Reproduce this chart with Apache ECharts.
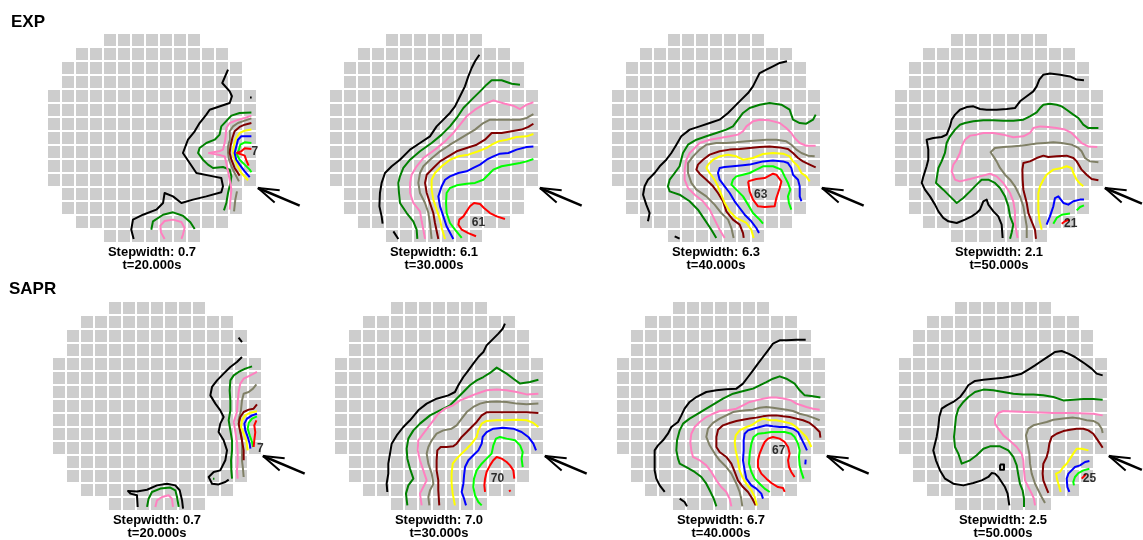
<!DOCTYPE html>
<html>
<head>
<meta charset="utf-8">
<script src="https://cdn.jsdelivr.net/npm/echarts@6/dist/echarts.min.js"></script>
<style>
  html, body { margin: 0; padding: 0; background: #ffffff; }
  #chart { width: 1143px; height: 540px; }
</style>
</head>
<body>
<div id="chart"></div>
<script>
// Detector layout: number of cells in each of the 15 rows of the round array
const cellRows = [7, 11, 13, 13, 15, 15, 15, 15, 15, 15, 15, 13, 13, 11, 7];

const times = [20, 30, 40, 50];
const expStepwidth = [0.7, 6.1, 6.3, 2.1];
const saprStepwidth = [0.7, 7.0, 6.7, 2.5];

// Peak values written next to the innermost contour: [col, row, value]
const expPeaks = [[14.84, 8.5, 7], [10.67, 13.57, 61], [10.69, 11.55, 63], [12.62, 13.62, 21]];
const saprPeaks = [[14.88, 10.54, 7], [11.67, 12.69, 70], [11.62, 10.67, 67], [13.67, 12.69, 25]];

// Contour level colours
const levelColors = {
  k: '#000000', g: '#008000', p: '#ff80c0', o: '#808066', m: '#800000',
  y: '#ffff00', b: '#0000ff', l: '#00ff00', r: '#ff0000'
};

// Contour lines in cell units (x: column, y: row from top), one list per panel
const exp20 = [
  ['k', [[12.93,2.62],[12.52,3.57],[13.05,4.17],[13.21,4.52],[13.05,5.0],[11.62,5.48],[11.38,5.83],[10.9,6.43],[10.55,7.02],[10.07,7.62],[9.71,8.57],[10.19,9.29],[10.67,10.0],[11.86,10.24],[12.45,10.36],[12.57,10.95],[12.45,11.38],[11.38,11.67],[10.43,11.9],[9.6,12.14],[9.0,11.67],[8.4,11.43],[8.29,12.14],[7.81,12.62],[6.86,12.98],[6.14,13.33],[6.02,14.05],[6.19,14.71]]],
  ['k', [[14.5,4.6],[14.62,4.6]]],
  ['g', [[14.6,5.67],[13.76,5.71],[13.17,5.9],[12.9,6.19],[12.45,6.67],[12.33,7.26],[11.98,7.62],[11.38,7.86],[10.9,8.21],[10.79,8.57],[11.14,9.05],[11.5,9.4],[11.86,9.64],[12.57,9.57],[13.05,9.76],[13.17,10.24],[13.1,10.71],[12.93,11.43],[12.81,12.14],[12.64,12.67]]],
  ['g', [[7.45,14.05],[7.57,13.45],[8.29,12.98],[9.0,12.81],[9.71,13.05],[10.24,13.52],[10.55,14.0]]],
  ['p', [[14.6,5.9],[14.12,6.07],[13.52,6.24],[13.05,6.43],[12.81,6.79],[12.76,7.38],[12.69,7.86],[12.57,8.33],[12.29,8.45],[11.57,8.57],[12.33,8.71],[12.69,8.81],[12.81,9.29],[12.93,9.88],[13.05,10.48],[13.17,11.19],[13.1,11.9],[13.05,12.62]]],
  ['p', [[8.4,14.71],[8.14,14.24],[8.1,13.76],[8.4,13.43],[9.0,13.33],[9.6,13.5],[9.83,13.93],[9.71,14.4],[9.6,14.71]]],
  ['o', [[14.6,6.1],[14.12,6.26],[13.64,6.43],[13.29,6.67],[13.05,7.02],[13.05,7.62],[12.93,8.1],[12.93,8.57],[13.0,9.05],[13.17,9.52],[13.4,10.0],[13.71,10.6]]],
  ['o', [[13.57,11.31],[13.45,11.9],[13.36,12.74]]],
  ['m', [[14.6,6.43],[14.12,6.55],[13.76,6.71],[13.4,7.02],[13.24,7.5],[13.1,8.1],[13.05,8.57],[13.17,9.05],[13.4,9.64],[13.76,10.19]]],
  ['y', [[14.6,6.9],[14.12,6.98],[13.76,7.14],[13.52,7.5],[13.36,7.98],[13.29,8.45],[13.36,8.93],[13.57,9.4],[13.88,10.0],[14.36,10.52]]],
  ['b', [[14.6,7.38],[13.88,7.38],[13.64,7.62],[13.52,8.1],[13.4,8.57],[13.52,9.05],[13.76,9.4],[14.12,9.88],[14.48,10.29]]],
  ['l', [[14.6,7.86],[14.12,7.81],[13.81,7.98],[13.71,8.33],[13.57,8.69],[13.76,9.05],[14.12,9.4],[14.48,9.76],[14.6,9.95]]],
  ['r', [[14.6,8.29],[14.12,8.24],[13.88,8.45],[13.57,8.57],[13.88,8.67],[14.12,8.76],[14.24,9.1],[14.4,9.48]]]
];

const exp30 = [
  ['k', [[10.74,1.55],[10.43,2.02],[10.19,2.5],[9.95,3.1],[9.71,3.81],[9.36,4.52],[9.0,5.24],[8.64,5.71],[8.17,6.19],[7.69,6.67],[7.21,7.38],[6.5,7.86],[5.79,8.33],[5.07,9.05],[4.48,9.52],[4.0,10.0],[3.76,10.71],[3.64,11.43],[3.6,12.38],[3.76,13.1],[3.83,13.62]]],
  ['k', [[4.6,14.17],[4.95,14.71]]],
  ['g', [[13.64,3.69],[13.05,3.62],[12.33,3.38],[11.62,3.38],[11.26,3.69],[10.79,4.17],[10.19,4.76],[9.6,5.36],[9.12,6.07],[8.64,6.67],[8.05,7.26],[7.33,7.86],[6.5,8.45],[5.79,9.05],[5.31,9.64],[5.07,10.24],[4.95,10.71],[5.0,11.43],[5.07,12.14],[5.55,12.86],[6.02,13.45],[6.26,14.05],[6.31,14.71]]],
  ['p', [[14.6,4.95],[14.12,5.12],[13.64,5.43],[13.17,5.19],[12.57,5.05],[11.74,4.81],[11.02,5.12],[10.43,5.48],[9.83,5.95],[9.36,6.55],[8.88,7.14],[8.29,7.74],[7.57,8.33],[6.74,8.93],[6.26,9.52],[5.9,10.12],[5.79,10.71],[5.79,11.43],[6.02,12.14],[6.5,12.74],[6.62,13.45],[6.74,14.05],[6.86,14.71]]],
  ['o', [[14.6,5.79],[14.12,6.07],[13.64,6.19],[12.93,6.19],[11.5,6.19],[11.02,6.43],[10.43,6.9],[9.83,7.26],[9.24,7.62],[8.64,7.98],[7.93,8.45],[7.21,9.05],[6.74,9.52],[6.5,10.0],[6.38,10.71],[6.5,11.43],[6.86,12.14],[7.1,12.86],[7.21,13.57],[7.33,14.71]]],
  ['m', [[14.6,6.48],[14.24,6.71],[13.76,6.9],[13.05,7.02],[12.33,7.14],[11.62,7.14],[11.14,7.62],[10.55,7.98],[9.83,8.21],[9.12,8.45],[8.52,8.81],[7.93,9.17],[7.45,9.64],[6.98,10.12],[6.86,10.71],[6.98,11.43],[7.21,12.14],[7.45,12.86],[7.57,13.57],[7.81,14.71]]],
  ['y', [[14.6,7.21],[14.12,7.38],[13.4,7.43],[12.69,7.62],[12.1,7.74],[11.62,7.98],[11.26,8.21],[10.67,8.45],[9.95,8.69],[9.24,8.81],[8.64,9.05],[8.05,9.52],[7.57,10.0],[7.33,10.48],[7.33,11.19],[7.45,11.9],[7.69,12.62],[7.93,13.33],[8.05,13.93],[8.29,14.71]]],
  ['b', [[14.6,8.1],[14.12,8.14],[13.4,8.33],[12.81,8.57],[12.21,8.62],[11.74,8.81],[11.26,9.05],[10.79,9.4],[10.31,9.64],[9.83,9.88],[9.24,10.0],[8.64,10.24],[8.29,10.48],[8.05,10.95],[7.81,11.67],[7.93,12.38],[8.17,13.1],[8.4,13.81],[8.88,14.71]]],
  ['l', [[14.6,9.0],[14.12,9.17],[13.64,9.29],[13.05,9.4],[12.33,9.52],[11.74,9.76],[11.38,10.12],[11.02,10.48],[10.43,10.71],[9.83,10.76],[9.12,10.88],[8.64,11.07],[8.4,11.43],[8.36,12.14],[8.4,12.86],[8.64,13.57],[9.0,14.05],[9.48,14.64]]],
  ['r', [[12.57,13.29],[11.98,13.1],[11.5,12.86],[11.07,12.5],[10.79,12.21],[10.36,12.14],[10.07,12.38],[9.83,12.74],[9.6,13.1],[9.31,13.33],[9.24,13.69],[9.48,14.05],[9.95,14.29],[10.5,14.52]]]
];

const exp40 = [
  ['k', [[12.57,2.02],[12.05,2.14],[11.57,2.38],[11.1,2.62],[10.62,2.86],[10.38,3.33],[10.14,3.81],[9.79,4.29],[9.31,4.76],[8.83,5.24],[8.36,5.71],[7.76,6.19],[7.05,6.43],[6.33,6.67],[5.62,6.9],[5.02,7.38],[4.67,7.98],[4.31,8.57],[3.95,9.05],[3.48,9.52],[3.12,10.0],[2.64,10.48],[2.4,10.95],[2.29,11.55],[2.52,12.26],[2.76,12.86],[2.64,13.45]]],
  ['k', [[4.55,14.52],[4.9,14.69]]],
  ['g', [[14.62,5.83],[14.43,6.19],[13.95,6.48],[13.48,6.43],[13.0,6.19],[12.76,5.48],[12.17,5.12],[11.33,5.0],[10.62,5.12],[9.9,5.36],[9.43,5.71],[9.07,6.19],[8.71,6.67],[8.24,6.9],[7.52,7.14],[6.81,7.38],[6.1,7.62],[5.5,7.98],[5.14,8.57],[4.9,9.52],[4.55,10.0],[4.19,10.48],[4.07,10.95],[4.19,11.31],[4.9,11.55],[5.62,12.02],[6.21,12.62],[6.69,13.33],[7.17,14.05],[7.52,14.64]]],
  ['p', [[14.62,8.05],[13.95,8.05],[13.48,7.86],[13.12,7.5],[12.88,7.14],[12.52,6.79],[12.05,6.43],[11.33,6.24],[10.62,6.19],[10.14,6.31],[9.67,6.67],[9.43,7.02],[9.07,7.26],[8.48,7.38],[7.76,7.5],[7.05,7.62],[6.33,7.86],[5.98,8.21],[5.62,8.57],[5.38,9.05],[5.26,9.76],[5.26,10.48],[5.5,11.07],[5.98,11.55],[6.57,12.02],[7.05,12.62],[7.4,13.33],[7.76,14.05],[8.12,14.64]]],
  ['o', [[14.55,8.81],[14.07,8.76],[13.6,8.57],[13.24,8.33],[12.88,7.98],[12.52,7.74],[11.81,7.62],[11.1,7.62],[10.38,7.67],[9.67,7.74],[8.95,7.81],[8.24,7.86],[7.52,7.86],[6.81,7.98],[6.33,8.33],[5.86,8.81],[5.5,9.29],[5.5,10.0],[5.74,10.71],[6.1,11.19],[6.81,11.67],[7.4,12.26],[7.88,12.86],[8.36,13.33],[8.6,13.93],[8.76,14.64]]],
  ['m', [[14.62,9.6],[14.19,9.4],[13.71,9.17],[13.36,8.93],[13.0,8.57],[12.64,8.29],[12.05,8.17],[11.33,8.1],[10.62,8.14],[9.9,8.21],[9.19,8.29],[8.48,8.33],[7.76,8.45],[7.05,8.69],[6.57,9.05],[6.21,9.4],[6.1,9.76],[6.33,10.05],[6.81,10.48],[7.29,10.95],[7.64,11.43],[8.0,12.02],[8.24,12.74],[8.71,13.33],[9.19,13.69],[9.43,14.29],[9.48,14.64]]],
  ['y', [[14.19,10.6],[13.95,10.24],[13.6,10.0],[13.36,9.52],[13.0,9.17],[12.76,8.81],[12.29,8.62],[11.57,8.57],[10.86,8.64],[10.14,8.93],[9.43,9.05],[8.95,8.81],[8.36,8.69],[7.76,8.81],[7.29,9.05],[6.93,9.4],[6.81,9.64],[7.05,10.0],[7.4,10.48],[7.64,10.95],[7.88,11.55],[8.12,12.14],[8.48,12.74],[8.95,13.21],[9.67,13.57],[10.02,14.05],[10.19,14.64]]],
  ['b', [[13.6,12.02],[13.48,11.67],[13.48,10.95],[13.36,10.48],[13.0,10.12],[12.88,9.64],[12.64,9.29],[12.29,9.17],[11.57,9.1],[10.86,9.17],[10.38,9.29],[9.9,9.4],[9.43,9.45],[8.71,9.52],[8.12,9.57],[7.76,9.64],[7.64,10.0],[7.76,10.48],[8.12,10.95],[8.48,11.43],[8.83,12.02],[9.19,12.5],[9.55,12.98],[10.02,13.45],[10.38,13.93],[10.57,14.29]]],
  ['l', [[12.88,12.62],[12.71,12.14],[12.64,11.67],[12.81,11.19],[12.64,10.71],[12.4,10.24],[12.17,9.76],[11.57,9.52],[10.86,9.52],[10.38,9.76],[9.9,10.0],[9.43,10.12],[8.95,10.24],[8.71,10.48],[8.6,10.83],[8.95,11.19],[9.43,11.67],[9.79,12.26],[10.14,12.86],[10.62,13.33],[10.86,13.62]]],
  ['r', [[9.79,10.6],[10.38,10.43],[10.98,10.36],[11.57,10.05],[11.81,10.12],[12.17,10.6],[12.05,11.07],[11.81,11.79],[11.69,12.38],[10.98,12.43],[10.5,12.38],[10.14,11.9],[9.9,11.31],[9.79,10.6]]]
];

const exp50 = [
  ['k', [[13.57,3.38],[13.05,3.33],[12.57,3.1],[11.86,2.98],[11.14,2.9],[10.67,2.98],[10.38,3.33],[10.19,3.81],[9.95,4.17],[9.48,4.52],[9.0,4.88],[8.64,5.36],[8.05,5.43],[7.33,5.48],[6.62,5.48],[6.14,5.43],[5.67,5.24],[5.19,5.29],[4.71,5.48],[4.36,5.83],[4.12,6.19],[4.0,6.67],[3.76,7.26],[3.4,7.43],[2.81,7.5],[2.33,7.62],[2.45,8.33],[2.45,9.05],[2.33,9.52],[2.1,10.24],[1.98,10.71],[2.21,11.19],[2.57,11.67],[2.93,12.26],[3.17,12.74],[3.52,13.21],[3.88,13.45],[4.48,13.57],[5.07,13.33],[5.55,13.1],[5.9,12.86],[6.14,12.62],[6.38,12.02],[6.62,11.9],[6.74,12.26],[7.1,12.74],[7.45,13.1],[7.69,13.69],[7.76,14.64]]],
  ['g', [[14.6,6.79],[13.88,6.79],[13.52,6.55],[13.17,6.07],[12.81,5.83],[12.33,5.48],[11.98,5.24],[11.62,5.12],[11.14,5.05],[10.67,5.12],[10.43,5.36],[10.19,5.67],[9.71,5.95],[9.24,6.19],[8.52,6.26],[7.81,6.26],[7.1,6.24],[6.38,6.24],[5.67,6.31],[5.07,6.43],[4.71,6.55],[4.36,6.9],[4.0,7.38],[3.76,7.86],[3.64,8.57],[3.4,9.17],[3.17,9.64],[3.0,10.71],[3.52,11.19],[4.0,11.67],[4.48,12.14],[4.95,11.79],[5.43,11.31],[5.9,10.83],[6.26,10.48],[6.74,10.48],[7.21,10.71],[7.57,11.07],[7.93,11.67],[8.17,12.38],[8.29,13.1],[8.52,13.69],[8.4,14.29],[8.29,14.69]]],
  ['p', [[14.52,8.14],[13.88,8.1],[13.4,7.86],[13.05,7.5],[12.69,7.14],[12.21,6.9],[11.62,6.79],[11.02,6.71],[10.43,6.67],[9.95,6.79],[9.71,7.14],[9.24,7.38],[8.52,7.45],[7.81,7.26],[7.1,7.14],[6.38,7.14],[5.9,7.26],[5.43,7.33],[5.07,7.62],[4.83,8.1],[4.71,8.57],[4.48,9.05],[4.24,9.4],[4.12,9.88],[4.36,10.48],[4.71,10.6],[5.43,10.43],[6.14,10.24],[6.86,10.05],[7.33,10.24],[7.81,10.71],[8.29,11.43],[8.52,12.02],[8.64,12.74],[8.64,13.57],[8.76,14.29],[8.83,14.64]]],
  ['o', [[14.6,9.24],[14.0,9.17],[13.64,8.93],[13.4,8.45],[13.17,8.21],[12.69,7.98],[11.98,7.86],[11.38,7.81],[10.79,7.86],[10.19,7.9],[9.6,7.98],[9.0,8.05],[8.4,8.1],[7.81,8.14],[7.21,8.21],[6.9,8.52],[7.1,8.81],[7.33,9.17],[7.57,9.64],[7.93,10.12],[8.29,10.48],[8.64,10.95],[9.0,11.67],[9.24,12.38],[9.36,13.1],[9.48,13.81],[9.48,14.64]]],
  ['m', [[14.6,10.52],[14.12,10.43],[13.76,10.12],[13.4,9.76],[13.05,9.17],[12.81,8.93],[12.33,8.76],[11.62,8.81],[11.02,8.86],[10.67,8.76],[10.19,8.93],[9.71,9.17],[9.24,9.29],[9.17,9.76],[9.19,10.48],[9.24,11.19],[9.48,12.14],[9.6,12.86],[9.83,13.45],[10.07,14.05],[10.14,14.71]]],
  ['y', [[13.52,10.95],[13.24,10.71],[13.05,10.48],[12.81,10.0],[12.69,9.64],[12.33,9.52],[11.98,9.64],[11.38,9.76],[10.9,10.12],[10.67,10.48],[10.43,10.95],[10.31,11.43],[10.31,12.02],[10.31,12.62],[10.38,13.33],[10.55,14.05]]],
  ['b', [[10.9,13.69],[11.14,13.1],[11.38,12.38],[11.5,11.79],[11.74,11.67],[12.1,12.14],[12.45,12.26],[12.81,12.02],[13.29,11.9],[13.57,11.9]]],
  ['l', [[11.38,13.62],[11.62,13.21],[11.98,12.98],[12.57,12.9]]],
  ['l', [[13.05,12.67],[13.29,12.43],[13.57,12.31]]],
  ['r', [[11.98,13.62],[12.21,13.45],[12.52,13.33]]]
];

const sapr20 = [
  ['k', [[13.33,2.62],[13.57,2.93]]],
  ['k', [[13.57,4.0],[13.21,4.36],[12.74,4.71],[12.26,5.19],[11.79,5.67],[11.43,6.14],[11.31,6.74],[11.67,7.33],[12.02,7.81],[12.26,8.29],[12.02,8.76],[11.9,9.36],[12.26,9.95],[12.5,10.67],[12.38,11.38],[12.02,12.1],[11.55,12.21],[11.19,12.57],[11.43,13.05],[11.9,13.1],[12.38,12.93],[12.62,12.76]]],
  ['k', [[6.12,14.71],[6.07,13.88],[5.6,13.76],[5.43,13.57],[6.07,13.6],[6.79,13.48],[7.5,13.17],[8.21,13.05],[8.81,13.17],[9.12,13.52],[9.29,14.24],[9.36,14.83]]],
  ['g', [[14.29,4.67],[13.81,4.83],[13.33,5.07],[12.98,5.31],[12.74,5.67],[12.69,6.38],[12.74,7.1],[12.74,7.81],[12.62,8.52],[12.74,9.24],[12.86,9.95],[12.86,10.67],[12.79,11.38],[12.81,12.1],[12.86,12.69]]],
  ['g', [[11.5,12.69],[11.6,12.69]]],
  ['g', [[6.79,14.71],[6.9,14.12],[7.14,13.64],[7.74,13.4],[8.45,13.33],[8.81,13.52],[8.93,14.0],[9.05,14.71]]],
  ['p', [[14.64,5.07],[14.17,5.31],[13.69,5.55],[13.45,5.9],[13.33,6.5],[13.26,7.21],[13.21,7.93],[12.98,8.64],[13.1,9.36],[13.21,10.07],[13.26,10.79],[13.26,11.5],[13.21,12.1],[13.26,12.69]]],
  ['p', [[7.38,14.71],[7.5,14.24],[7.86,14.0],[8.33,13.88],[8.57,14.12],[8.64,14.71]]],
  ['o', [[14.6,5.95],[14.36,6.26],[14.05,6.5],[13.69,6.62],[13.57,7.1],[13.5,7.81],[13.33,8.52],[13.45,9.24],[13.57,9.95],[13.57,10.67],[13.57,11.38],[13.64,11.98],[13.69,12.57]]],
  ['m', [[14.64,7.38],[14.4,7.69],[14.05,7.76],[13.69,7.93],[13.45,8.29],[13.33,8.76],[13.45,9.36],[13.57,9.95],[13.69,10.67],[13.69,11.38]]],
  ['y', [[14.64,7.88],[14.17,7.98],[13.81,8.17],[13.57,8.52],[13.5,9.0],[13.69,9.48],[13.88,9.95],[13.98,10.67]]],
  ['b', [[14.64,8.05],[14.29,8.17],[13.93,8.4],[13.74,8.76],[13.81,9.24],[13.98,9.71],[14.12,10.19],[14.17,10.55]]],
  ['l', [[14.64,8.24],[14.29,8.4],[14.05,8.71],[13.98,9.12],[14.12,9.6],[14.29,10.07],[14.36,10.43]]],
  ['r', [[14.6,8.52],[14.45,8.88],[14.52,9.36],[14.45,9.95],[14.4,10.43]]]
];

const sapr30 = [
  ['k', [[12.21,1.62],[12.05,1.98],[11.74,2.33],[11.26,2.81],[10.9,3.17],[10.67,3.64],[10.31,4.0],[9.95,4.48],[9.6,4.95],[9.24,5.43],[8.88,6.02],[8.64,6.5],[8.17,6.74],[7.33,6.98],[6.62,7.33],[6.02,7.81],[5.43,8.52],[4.95,9.0],[4.48,9.6],[4.12,10.19],[4.0,10.9],[3.88,11.62],[3.88,12.33],[3.76,13.05],[3.81,13.64]]],
  ['g', [[14.6,5.62],[14.0,5.79],[13.29,5.9],[12.81,5.55],[12.33,5.19],[11.62,4.76],[11.14,5.14],[10.67,5.43],[10.19,5.67],[9.71,6.02],[9.24,6.5],[8.76,6.98],[8.29,7.45],[7.57,7.81],[6.86,8.17],[6.14,8.76],[5.67,9.24],[5.31,9.83],[5.19,10.55],[5.24,11.26],[5.43,11.98],[5.67,12.69],[5.31,13.17],[5.14,13.76],[5.24,14.6]]],
  ['p', [[14.6,6.62],[13.76,6.67],[13.05,6.5],[12.33,6.38],[11.62,6.33],[10.9,6.38],[10.19,6.62],[9.6,6.86],[9.0,7.1],[8.52,7.45],[7.93,7.69],[7.45,8.05],[7.1,8.52],[6.74,9.0],[6.38,9.48],[6.02,9.95],[5.98,10.67],[6.14,11.38],[6.38,12.1],[6.62,12.81],[6.38,13.29],[6.14,13.76],[6.26,14.6]]],
  ['o', [[14.6,7.33],[13.76,7.38],[13.05,7.33],[12.33,7.21],[11.62,7.17],[10.9,7.21],[10.43,7.33],[9.95,7.57],[9.48,7.93],[9.12,8.4],[8.76,8.88],[8.4,9.12],[7.81,9.24],[7.33,9.48],[6.98,9.95],[6.74,10.43],[6.62,10.9],[6.74,11.62],[6.98,12.33],[7.1,13.05],[6.86,13.52],[6.74,14.0],[6.81,14.6]]],
  ['m', [[14.6,8.0],[13.76,7.95],[12.33,7.95],[10.9,7.95],[10.55,8.17],[10.19,8.64],[9.83,9.0],[9.48,9.36],[9.12,9.71],[8.76,10.19],[8.52,10.38],[8.05,10.43],[7.62,10.43],[7.38,10.67],[7.33,11.38],[7.33,12.1],[7.45,12.81],[7.45,13.52],[7.52,14.6]]],
  ['y', [[14.6,9.0],[14.24,8.71],[13.76,8.52],[13.05,8.48],[12.33,8.52],[11.62,8.52],[10.9,8.57],[10.55,8.76],[10.31,9.24],[10.19,9.71],[9.83,10.19],[9.48,10.55],[9.12,10.9],[8.76,11.26],[8.48,11.62],[8.4,12.33],[8.4,13.05],[8.48,13.76],[8.64,14.6]]],
  ['b', [[14.43,10.67],[14.24,10.19],[13.88,9.71],[13.4,9.36],[12.81,9.12],[12.1,9.05],[11.38,9.12],[10.9,9.36],[10.62,9.71],[10.55,10.19],[10.31,10.67],[9.95,11.02],[9.6,11.38],[9.36,11.86],[9.29,12.45],[9.24,13.05],[9.12,13.64],[9.29,14.12],[9.43,14.6]]],
  ['l', [[13.48,11.86],[13.4,11.26],[13.48,10.79],[13.29,10.31],[12.93,9.95],[12.33,9.83],[11.86,9.71],[11.57,9.83],[11.38,10.31],[11.26,10.9],[10.9,11.26],[10.55,11.62],[10.19,12.1],[10.0,12.69],[9.95,13.29],[10.07,13.88],[10.31,14.36],[10.55,14.6]]],
  ['r', [[12.88,12.69],[12.81,12.1],[12.57,11.74],[12.33,11.5],[11.98,11.26],[11.62,11.14],[11.38,11.38],[11.14,11.74],[10.9,12.21],[10.79,12.69],[10.74,13.17],[10.79,13.64]]],
  ['r', [[12.5,13.6],[12.62,13.52]]]
];

const sapr40 = [
  ['k', [[13.55,2.76],[12.88,2.76],[12.17,2.81],[11.69,2.81],[11.21,3.05],[10.86,3.52],[10.5,4.0],[10.14,4.48],[9.79,4.95],[9.43,5.43],[9.07,5.9],[8.6,6.26],[7.88,6.31],[7.17,6.38],[6.45,6.5],[5.74,6.86],[5.26,7.21],[4.9,7.69],[4.67,8.17],[4.43,8.64],[3.95,9.0],[3.71,9.48],[3.36,9.95],[3.0,10.31],[2.76,10.67],[2.76,11.38],[2.76,12.1],[2.88,12.69],[3.12,13.17],[3.48,13.64]]],
  ['k', [[4.55,14.12],[4.9,14.36],[5.07,14.67]]],
  ['g', [[14.6,6.9],[14.07,6.81],[13.48,6.74],[13.12,6.38],[12.76,5.9],[12.17,5.55],[11.69,5.38],[11.21,5.55],[10.74,5.79],[10.26,6.02],[9.79,6.26],[9.31,6.38],[8.83,6.5],[8.36,6.62],[7.64,6.98],[7.05,7.33],[6.45,7.69],[5.86,8.05],[5.26,8.4],[4.79,8.76],[4.55,9.24],[4.36,9.95],[4.31,10.67],[4.43,11.26],[4.55,11.62],[5.02,11.86],[5.62,12.21],[6.1,12.57],[6.45,13.05],[6.69,13.52],[6.98,14.12],[7.17,14.67]]],
  ['p', [[14.55,7.76],[14.07,7.69],[13.6,7.57],[13.24,7.45],[12.88,7.33],[12.52,7.1],[12.05,6.98],[11.45,6.9],[10.98,6.9],[10.5,6.98],[10.02,7.1],[9.55,7.21],[9.07,7.45],[8.6,7.69],[8.0,7.81],[7.4,7.86],[6.93,8.05],[6.45,8.29],[5.98,8.64],[5.62,9.0],[5.38,9.48],[5.31,10.07],[5.38,10.67],[5.5,11.14],[5.98,11.38],[6.45,11.74],[6.81,12.21],[7.17,12.81],[7.52,13.29],[7.88,13.64],[8.12,14.12],[8.24,14.67]]],
  ['o', [[14.55,8.52],[14.07,8.33],[13.6,8.17],[13.12,8.05],[12.64,7.86],[12.17,7.76],[11.69,7.69],[11.21,7.62],[10.74,7.57],[10.26,7.62],[9.79,7.76],[9.31,7.81],[8.83,7.86],[8.36,7.93],[7.88,8.17],[7.4,8.4],[6.93,8.71],[6.57,9.12],[6.45,9.71],[6.69,10.31],[7.05,10.9],[7.4,11.38],[7.88,11.86],[8.24,12.33],[8.6,13.05],[8.83,13.64],[8.95,14.12],[9.02,14.67]]],
  ['m', [[14.6,9.76],[14.55,9.36],[14.19,9.0],[13.83,8.71],[13.36,8.52],[12.88,8.4],[12.4,8.29],[11.93,8.24],[11.45,8.17],[10.98,8.17],[10.5,8.24],[10.02,8.33],[9.55,8.4],[9.07,8.48],[8.6,8.57],[8.12,8.71],[7.64,8.88],[7.29,9.19],[7.17,9.71],[7.17,10.43],[7.4,10.79],[7.88,11.14],[8.24,11.62],[8.48,12.21],[8.71,12.81],[9.07,13.29],[9.43,13.64],[9.74,14.12],[9.98,14.6]]],
  ['y', [[13.95,10.43],[13.79,10.07],[13.6,9.71],[13.24,9.36],[12.88,9.0],[12.52,8.76],[12.05,8.64],[11.45,8.52],[10.98,8.52],[10.5,8.4],[10.02,8.64],[9.67,8.88],[9.31,9.0],[8.83,9.24],[8.55,9.6],[8.48,10.07],[8.55,10.67],[8.71,11.38],[8.83,12.1],[9.02,12.57],[9.31,13.05],[9.67,13.52],[9.9,13.98],[10.07,14.6]]],
  ['b', [[13.64,10.67],[13.48,10.31],[13.24,9.83],[13.0,9.36],[12.64,9.12],[12.17,9.0],[11.69,9.0],[11.21,8.95],[10.74,8.88],[10.26,9.0],[9.79,9.12],[9.43,9.24],[9.19,9.48],[9.12,9.95],[9.12,10.67],[9.07,11.38],[9.19,12.1],[9.31,12.69],[9.67,13.17],[10.02,13.4],[10.38,13.76],[10.5,14.12]]],
  ['b', [[13.55,11.33],[13.52,11.67]]],
  ['l', [[13.4,12.69],[13.24,12.21],[13.12,11.74],[13.07,11.14],[13.12,10.67],[13.0,10.19],[12.76,9.71],[12.52,9.48],[12.05,9.36],[11.57,9.36],[11.1,9.36],[10.62,9.43],[10.14,9.48],[9.83,9.71],[9.67,10.19],[9.55,10.9],[9.5,11.62],[9.67,12.21],[9.9,12.69],[10.26,13.05],[10.62,13.4],[10.98,13.64]]],
  ['r', [[12.76,12.57],[12.52,12.21],[12.36,11.86],[12.29,11.38],[12.4,10.9],[12.29,10.43],[12.05,10.07],[11.69,9.83],[11.21,9.71],[10.86,9.83],[10.62,10.07],[10.45,10.43],[10.26,10.9],[10.14,11.38],[10.14,11.86],[10.38,12.33],[10.74,12.69],[11.1,13.0],[11.57,13.29],[11.93,13.36],[12.05,13.64]]]
];

const sapr50 = [
  ['k', [[14.62,5.31],[14.19,5.19],[13.83,4.83],[13.36,4.48],[13.0,4.24],[12.64,4.0],[12.17,3.76],[11.69,3.57],[11.21,3.64],[10.86,3.88],[10.5,4.12],[10.14,4.36],[9.79,4.6],[9.31,4.9],[8.83,5.19],[8.12,5.38],[7.52,5.48],[6.81,5.55],[6.1,5.62],[5.5,5.71],[5.02,6.02],[4.79,6.38],[4.43,6.86],[3.95,7.21],[3.48,7.45],[3.12,7.69],[2.95,8.29],[2.88,9.0],[2.76,9.71],[2.52,10.67],[2.71,11.38],[3.0,12.1],[3.36,12.69],[3.95,13.05],[4.67,13.17],[5.38,13.0],[5.98,12.81],[6.45,12.57],[6.69,12.29],[6.93,12.33],[7.17,12.57],[7.4,12.93],[7.64,13.29],[7.83,13.76],[7.95,14.6]]],
  ['k', [[7.29,11.67],[7.57,11.67],[7.57,12.05],[7.29,12.05],[7.29,11.67]]],
  ['g', [[14.62,7.05],[13.95,7.0],[13.24,7.0],[12.52,7.05],[11.81,7.1],[11.1,6.86],[10.38,6.74],[9.67,6.67],[8.95,6.67],[8.24,6.62],[7.52,6.5],[6.81,6.38],[6.1,6.33],[5.5,6.5],[5.02,6.86],[4.67,7.21],[4.31,7.69],[4.14,8.29],[4.07,9.0],[4.0,9.71],[4.07,10.43],[4.31,10.9],[4.55,11.62],[5.14,11.38],[5.62,11.02],[6.1,10.55],[6.57,10.38],[7.29,10.38],[7.88,10.67],[8.24,11.14],[8.48,11.74],[8.6,12.45],[8.71,13.05],[8.9,13.52],[9.0,14.12],[9.0,14.71]]],
  ['p', [[14.62,8.17],[13.95,8.05],[12.52,8.0],[11.1,8.0],[9.67,7.95],[8.24,7.9],[7.52,7.86],[7.17,8.0],[6.93,8.4],[6.93,8.76],[7.17,9.12],[7.52,9.6],[7.95,9.95],[8.48,10.43],[8.83,10.9],[8.95,11.38],[9.0,12.1],[9.07,12.81],[9.31,13.29],[9.55,13.76],[9.71,14.12],[9.79,14.6]]],
  ['o', [[14.62,9.43],[14.55,9.12],[14.31,8.76],[13.95,8.57],[13.48,8.52],[13.0,8.4],[12.52,8.33],[11.81,8.4],[11.1,8.48],[10.62,8.64],[10.14,8.76],[9.67,8.88],[9.31,9.12],[9.14,9.6],[9.24,10.19],[9.38,10.9],[9.43,11.62],[9.55,12.33],[9.79,13.05],[10.02,13.52],[10.26,14.0],[10.5,14.43]]],
  ['m', [[14.62,10.48],[14.43,10.19],[14.19,9.83],[13.95,9.48],[13.6,9.24],[13.24,9.12],[12.76,9.12],[12.29,9.19],[11.81,9.29],[11.33,9.48],[10.98,9.71],[10.81,10.19],[10.74,10.67],[10.62,11.14],[10.38,11.62],[10.33,12.33],[10.38,12.81],[10.57,13.29],[10.74,13.71]]],
  ['y', [[13.6,10.67],[13.12,10.55],[12.76,10.55],[12.52,10.9],[12.29,11.26],[12.05,11.62],[11.81,11.86],[11.57,12.21],[11.29,12.33],[11.38,12.81],[11.52,13.29],[11.62,13.64]]],
  ['b', [[13.67,11.43],[13.36,11.5],[13.0,11.74],[12.64,11.86],[12.4,12.1],[12.17,12.33],[12.05,12.69],[12.1,13.29],[12.24,13.64]]],
  ['l', [[13.67,11.98],[13.24,12.1],[12.88,12.29],[12.64,12.57],[12.52,12.93],[12.57,13.17]]],
  ['r', [[13.12,12.69],[13.43,12.38]]]
];

// Arrow beside each array, in cell units: tip, tail of the shaft, and the two barb ends
const arrowTip = [15.07, 11.07];
const arrowTail = [18.05, 12.33];
const arrowBarbs = [[16.62, 11.24], [16.26, 12.1]];

const panelRows = [
  { title: 'EXP', contours: [exp20, exp30, exp40, exp50], steps: expStepwidth, peaks: expPeaks,
    lefts: [47, 329, 611, 894], top: 33 },
  { title: 'SAPR', contours: [sapr20, sapr30, sapr40, sapr50], steps: saprStepwidth, peaks: saprPeaks,
    lefts: [52, 334, 616, 898], top: 301 }
];

const FONT = 'Liberation Sans, Arial, sans-serif';
const CHART_W = 1143;
const CELL = 14;          // pixel pitch of one detector cell
const ARRAY_SPAN = 15;    // cells across the array

const cells = [];
cellRows.forEach((n, row) => {
  const start = (ARRAY_SPAN - n) / 2;
  for (let i = 0; i < n; i++) cells.push([start + i + 0.5, row + 0.5]);
});

const grids = [], xAxes = [], yAxes = [], series = [];
const titles = [];

panelRows.forEach((pr, r) => {
  titles.push({
    text: pr.title, left: r === 0 ? 11 : 9, top: r === 0 ? 14 : 281, padding: 0,
    textStyle: { fontFamily: FONT, fontSize: 17, fontWeight: 'bold', color: '#000' }
  });
  pr.contours.forEach((contour, c) => {
    const gi = grids.length;
    const left = pr.lefts[c];
    // horizontal room for the arrow, limited by the right edge of the page
    const xSpan = Math.min(arrowTail[0] + 0.1, Math.floor((CHART_W - 1 - left) / CELL * 100) / 100);
    const tailX = Math.min(arrowTail[0], xSpan);
    const f = (tailX - arrowTip[0]) / (arrowTail[0] - arrowTip[0]);
    const shaft = [arrowTip, [tailX, arrowTip[1] + f * (arrowTail[1] - arrowTip[1])]];
    const head = [arrowBarbs[0], arrowTip, arrowBarbs[1]];

    grids.push({ left: left, top: pr.top, width: xSpan * CELL, height: ARRAY_SPAN * CELL });
    xAxes.push({ gridIndex: gi, type: 'value', min: 0, max: xSpan, show: false });
    yAxes.push({ gridIndex: gi, type: 'value', min: 0, max: ARRAY_SPAN, inverse: true, show: false });
    titles.push({
      text: 'Stepwidth: ' + pr.steps[c].toFixed(1) + '\nt=' + times[c].toFixed(3) + 's',
      left: left + ARRAY_SPAN * CELL / 2, top: pr.top + ARRAY_SPAN * CELL + 3,
      textAlign: 'center', padding: 0,
      textStyle: { color: '#000', fontFamily: FONT, fontSize: 13, fontWeight: 'bold', lineHeight: 13 }
    });
    series.push({
      type: 'scatter', xAxisIndex: gi, yAxisIndex: gi, data: cells,
      symbol: 'rect', symbolSize: 12, silent: true,
      itemStyle: { color: '#c0c0c0' }, z: 1
    });
    contour.forEach(([key, pts]) => {
      series.push({
        type: 'line', xAxisIndex: gi, yAxisIndex: gi, data: pts,
        symbol: 'none', silent: true,
        lineStyle: { color: levelColors[key], width: 2, join: 'round' }, z: 3
      });
    });
    [shaft, head].forEach((pts, k) => {
      series.push({
        type: 'line', xAxisIndex: gi, yAxisIndex: gi, data: pts,
        symbol: 'none', silent: true,
        lineStyle: { color: '#000', width: k === 0 ? 2.5 : 2 }, z: 3
      });
    });
    series.push({
      type: 'scatter', xAxisIndex: gi, yAxisIndex: gi, data: [pr.peaks[c]],
      symbolSize: 1, silent: true, itemStyle: { color: 'rgba(0,0,0,0)' }, z: 4,
      label: {
        show: true, position: 'inside', formatter: p => String(p.value[2]),
        color: '#000', fontFamily: FONT, fontSize: 12, fontWeight: 'bold'
      }
    });
  });
});

const chart = echarts.init(document.getElementById('chart'), null, { renderer: 'canvas' });
chart.setOption({
  animation: false,
  backgroundColor: '#ffffff',
  title: titles,
  grid: grids,
  xAxis: xAxes,
  yAxis: yAxes,
  series: series
});
</script>
</body>
</html>
